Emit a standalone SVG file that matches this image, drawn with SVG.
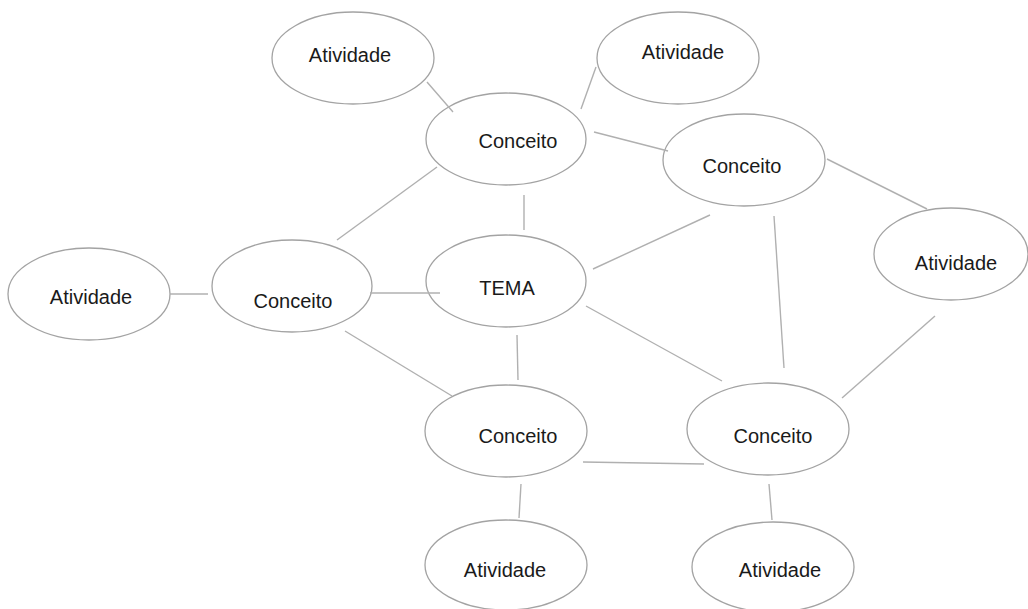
<svg xmlns="http://www.w3.org/2000/svg" width="1028" height="609" viewBox="0 0 1028 609">
<style>
.n ellipse{fill:#fff;stroke:#a3a3a3;stroke-width:1.3}
.n text{font-family:"Liberation Sans",Arial,sans-serif;font-size:20px;fill:#1a1a1a;text-anchor:middle}
#edges line{stroke:#b0b0b0;stroke-width:1.4}
</style>
<rect width="1028" height="609" fill="#fff"/>
<g id="nodes">
<g id="atv-tl" class="n"><ellipse cx="353" cy="58" rx="81" ry="46"/><text x="350" y="62">Atividade</text></g>
<g id="atv-tr" class="n"><ellipse cx="678" cy="58" rx="81" ry="46"/><text x="683" y="59">Atividade</text></g>
<g id="con-top" class="n"><ellipse cx="506" cy="139" rx="80" ry="46"/><text x="518" y="148">Conceito</text></g>
<g id="con-right" class="n"><ellipse cx="744" cy="160" rx="81" ry="46"/><text x="742" y="173">Conceito</text></g>
<g id="atv-right" class="n"><ellipse cx="951" cy="254" rx="77" ry="46"/><text x="956" y="270">Atividade</text></g>
<g id="atv-left" class="n"><ellipse cx="89" cy="294" rx="81" ry="46"/><text x="91" y="304">Atividade</text></g>
<g id="con-left" class="n"><ellipse cx="292" cy="286" rx="80" ry="46"/><text x="293" y="308">Conceito</text></g>
<g id="tema" class="n"><ellipse cx="506" cy="281" rx="80" ry="46"/><text x="507" y="295">TEMA</text></g>
<g id="con-bl" class="n"><ellipse cx="506" cy="431" rx="81" ry="46"/><text x="518" y="443">Conceito</text></g>
<g id="con-br" class="n"><ellipse cx="768" cy="429" rx="81" ry="46"/><text x="773" y="443">Conceito</text></g>
<g id="atv-bl" class="n"><ellipse cx="506" cy="565" rx="81" ry="45"/><text x="505" y="577">Atividade</text></g>
<g id="atv-br" class="n"><ellipse cx="773" cy="567" rx="81" ry="45"/><text x="780" y="577">Atividade</text></g>
</g>
<g id="edges">
<line x1="427" y1="82" x2="453" y2="112"/>
<line x1="596" y1="67" x2="581" y2="109"/>
<line x1="594" y1="132" x2="668" y2="151"/>
<line x1="827" y1="159" x2="927" y2="209"/>
<line x1="710" y1="215" x2="593" y2="269"/>
<line x1="774" y1="216" x2="784" y2="368"/>
<line x1="524" y1="195" x2="524" y2="230"/>
<line x1="437" y1="167" x2="337" y2="240"/>
<line x1="170" y1="294" x2="208" y2="294"/>
<line x1="370" y1="293" x2="440" y2="293"/>
<line x1="345" y1="331" x2="452" y2="396"/>
<line x1="517" y1="335" x2="518" y2="380"/>
<line x1="586" y1="306" x2="722" y2="381"/>
<line x1="935" y1="316" x2="842" y2="398"/>
<line x1="583" y1="462" x2="704" y2="464"/>
<line x1="521" y1="484" x2="519" y2="518"/>
<line x1="769" y1="484" x2="772" y2="520"/>
</g>
</svg>
